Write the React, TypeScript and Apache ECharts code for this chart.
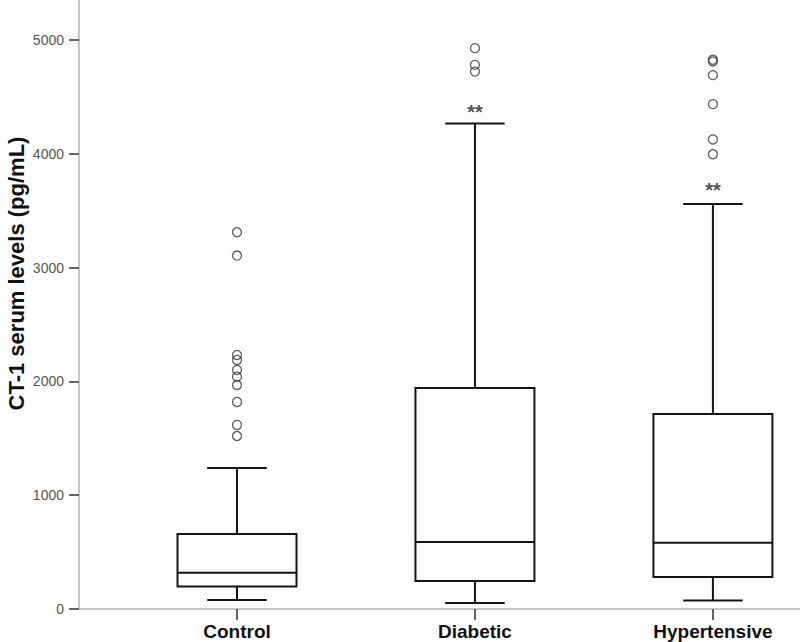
import React, { useEffect, useRef } from "react";
import * as echarts from "echarts";

const categories = ["Control", "Diabetic", "Hypertensive"];
// [min, Q1, median, Q3, max]
const boxStats = [
  [79, 197, 318, 659, 1238],
  [53, 247, 588, 1942, 4266],
  [74, 282, 582, 1713, 3558],
];
const controlOutliers = [3310, 3105, 2232, 2188, 2100, 2041, 1968, 1819, 1617, 1520];
const diabeticOutliers = [4927, 4780, 4721];
const hypertensiveOutliers = [4825, 4810, 4690, 4435, 4125, 3995];
const starMarks = [null, 4414, 3726];
const yTicks = [0, 1000, 2000, 3000, 4000, 5000];

const FONT = "'Liberation Sans', Arial, Helvetica, sans-serif";

export default function App() {
  const ref = useRef<HTMLDivElement>(null);

  useEffect(() => {
    if (!ref.current) return;
    const chart = echarts.init(ref.current, undefined, { renderer: "svg" });

    const catPos = categories.map((_, i) => i + 1);
    const boxData = boxStats.map((s, i) => [catPos[i], ...s]);
    const outlierGroups = [controlOutliers, diabeticOutliers, hypertensiveOutliers];
    const outlierData: number[][] = [];
    outlierGroups.forEach((g, i) => g.forEach((v) => outlierData.push([catPos[i], v])));
    const starData: number[][] = [];
    starMarks.forEach((v, i) => {
      if (v != null) starData.push([catPos[i], v]);
    });

    const stroke = "#141414";
    const lw = 2;

    chart.setOption({
      animation: false,
      backgroundColor: "#ffffff",
      grid: {
        left: 79,
        right: 0,
        top: 0,
        bottom: 33,
        containLabel: false,
        outerBoundsMode: "none",
      },
      xAxis: {
        type: "value",
        min: 0.336,
        max: 3.366,
        splitLine: { show: false },
        axisLine: { show: true, lineStyle: { color: "#c8c8c8", width: 2 } },
        axisTick: {
          show: true,
          customValues: catPos,
          length: 11,
          lineStyle: { color: "#333", width: 1.5 },
        },
        axisLabel: {
          customValues: catPos,
          formatter: (v: number) => categories[Math.round(v) - 1] ?? "",
          fontFamily: FONT,
          fontWeight: "bold",
          fontSize: 19,
          color: "#111",
          margin: 13,
        },
      },
      yAxis: {
        type: "value",
        min: 0,
        max: 5350,
        interval: 1000,
        splitLine: { show: false },
        axisLine: { show: true, lineStyle: { color: "#c8c8c8", width: 2 } },
        axisTick: {
          show: true,
          customValues: yTicks,
          length: 10,
          lineStyle: { color: "#333", width: 1.5 },
        },
        axisLabel: {
          customValues: yTicks,
          formatter: (v: number) => String(v),
          fontFamily: FONT,
          fontSize: 14,
          color: "#555",
          margin: 15,
        },
        name: "CT-1 serum levels (pg/mL)",
        nameLocation: "middle",
        nameGap: 52,
        nameMoveOverlap: false,
        nameTextStyle: {
          fontFamily: FONT,
          fontWeight: "bold",
          fontSize: 22,
          color: "#111",
          padding: [0, 0, 0, 62],
        },
      },
      series: [
        {
          type: "custom",
          data: boxData,
          encode: { x: 0, y: [1, 2, 3, 4, 5] },
          renderItem: (params: any, api: any) => {
            const x = api.value(0);
            const pMin = api.coord([x, api.value(1)]);
            const pQ1 = api.coord([x, api.value(2)]);
            const pMed = api.coord([x, api.value(3)]);
            const pQ3 = api.coord([x, api.value(4)]);
            const pMax = api.coord([x, api.value(5)]);
            const boxW = api.size([0.5, 0])[0];
            const capW = api.size([0.25, 0])[0];
            const cx = pMed[0];
            const style = { stroke, lineWidth: lw, fill: "none" };
            return {
              type: "group",
              children: [
                {
                  type: "line",
                  shape: { x1: cx, y1: pQ3[1], x2: cx, y2: pMax[1] },
                  style,
                },
                {
                  type: "line",
                  shape: { x1: cx, y1: pQ1[1], x2: cx, y2: pMin[1] },
                  style,
                },
                {
                  type: "line",
                  shape: { x1: cx - capW / 2, y1: pMax[1], x2: cx + capW / 2, y2: pMax[1] },
                  style,
                },
                {
                  type: "line",
                  shape: { x1: cx - capW / 2, y1: pMin[1], x2: cx + capW / 2, y2: pMin[1] },
                  style,
                },
                {
                  type: "rect",
                  shape: { x: cx - boxW / 2, y: pQ3[1], width: boxW, height: pQ1[1] - pQ3[1] },
                  style: { stroke, lineWidth: lw, fill: "#ffffff" },
                },
                {
                  type: "line",
                  shape: { x1: cx - boxW / 2, y1: pMed[1], x2: cx + boxW / 2, y2: pMed[1] },
                  style,
                },
              ],
            };
          },
          z: 2,
        },
        {
          type: "scatter",
          data: outlierData,
          symbol: "circle",
          symbolSize: 9,
          itemStyle: { color: "rgba(0,0,0,0)", borderColor: "#333", borderWidth: 1.3 },
          z: 3,
        },
        {
          type: "scatter",
          data: starData,
          symbol: "circle",
          symbolSize: 1,
          itemStyle: { color: "rgba(0,0,0,0)" },
          label: {
            show: true,
            position: "inside",
            formatter: "**",
            fontFamily: FONT,
            fontWeight: "bold",
            fontSize: 20,
            color: "#222",
            offset: [0, 5],
          },
          z: 3,
        },
      ],
    });

    return () => chart.dispose();
  }, []);

  return (
    <div
      ref={ref}
      style={{ position: "fixed", left: 0, top: 0, width: 800, height: 642, background: "#fff" }}
    />
  );
}
